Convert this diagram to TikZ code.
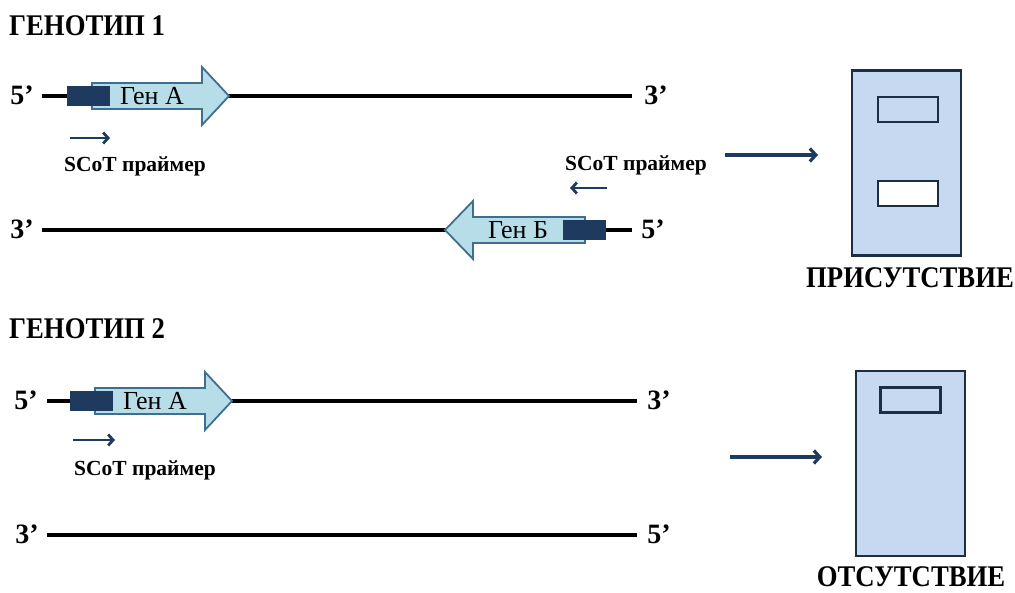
\documentclass[tikz,border=0pt]{standalone}
\usepackage{fontspec}
\setmainfont{Liberation Serif}
\usetikzlibrary{arrows.meta}
\definecolor{navy}{HTML}{1F3A5F}
\definecolor{genefill}{HTML}{B7DEE8}
\definecolor{geneedge}{HTML}{3F6F8F}
\definecolor{gelfill}{HTML}{C6D9F1}
\definecolor{geledge}{HTML}{1C2E44}
\newcommand{\narrow}[1]{\scalebox{0.89}[1]{#1}}
\tikzset{
  strand/.style={line width=3.4pt, black},
  genearrow/.style={fill=genefill, draw=geneedge, line width=1.8pt, line join=miter},
  promoter/.style={fill=navy},
  genetext/.style={font=\fontsize{26}{28}\selectfont, inner sep=0pt},
  endlabel/.style={font=\bfseries\fontsize{28}{30}\selectfont, inner sep=0pt},
  title/.style={font=\bfseries\fontsize{30}{32}\selectfont, inner sep=0pt},
  primerlbl/.style={font=\bfseries\fontsize{21.5}{23}\selectfont, inner sep=0pt},
  primer/.style={draw=navy, line width=2.8pt, -{Straight Barb[length=5pt,width=11pt]}},
  flow/.style={draw=navy, line width=3.2pt, -{Straight Barb[length=6pt,width=13pt]}},
  gel/.style={draw=geledge, fill=gelfill, line width=2.4pt, minimum width=109pt, minimum height=185pt, inner sep=0pt},
  band/.style={draw=geledge, line width=2.4pt, minimum width=60pt, minimum height=25pt, inner sep=0pt},
}
\begin{document}
\begin{tikzpicture}[x=1pt,y=-1pt]
\useasboundingbox (0,0) rectangle (1015,592);

% ---------- Genotype 1 ----------
\node[title, anchor=west] (t1) at (9,26) {\narrow{ГЕНОТИП 1}};

% forward strand with gene A
\coordinate (s1a) at (42,96);
\coordinate (s1b) at (632,96);
\draw[strand] (s1a) -- (s1b);
\node[endlabel] (s1l) at (22,95) {5’};
\node[endlabel] (s1r) at (656,95) {3’};
\path[genearrow] (92,83) -- (202,83) -- (202,67) -- (229,96) -- (202,125) -- (202,109) -- (92,109) -- cycle;
\fill[promoter] (67,86) rectangle (110,106);
\node[genetext] (gA1) at (152,96) {Ген А};
\coordinate (p1a) at (70,138);
\coordinate (p1b) at (110,138);
\draw[primer] (p1a) -- (p1b);
\node[primerlbl] (pl1) at (135,166) {SCoT праймер};

% reverse strand with gene B
\coordinate (s2a) at (42,230);
\coordinate (s2b) at (632,230);
\draw[strand] (s2a) -- (s2b);
\node[endlabel] (s2l) at (22,229) {3’};
\node[endlabel] (s2r) at (653,229) {5’};
\path[genearrow] (585,217) -- (473,217) -- (473,201) -- (445,230) -- (473,259) -- (473,243) -- (585,243) -- cycle;
\fill[promoter] (563,220) rectangle (606,240);
\node[genetext] (gB1) at (518,230) {Ген Б};
\coordinate (p2a) at (607,188);
\coordinate (p2b) at (570,188);
\draw[primer] (p2a) -- (p2b);
\node[primerlbl] (pl2) at (636,165) {SCoT праймер};

% gel 1: two bands
\node[gel] (gel1) at (906.5,163) {};
\node[band, fill=gelfill] (b11) at (908,109.5) {};
\node[band, fill=white] (b12) at (908,193.5) {};
\coordinate (f1a) at (725,155);
\coordinate (f1b) at (818,155);
\draw[flow] (f1a) -- (f1b);
\node[title] (r1) at (910,278) {\narrow{ПРИСУТСТВИЕ}};

% ---------- Genotype 2 ----------
\node[title, anchor=west] (t2) at (9,329) {\narrow{ГЕНОТИП 2}};

\coordinate (s3a) at (47,401);
\coordinate (s3b) at (637,401);
\draw[strand] (s3a) -- (s3b);
\node[endlabel] (s3l) at (26,400) {5’};
\node[endlabel] (s3r) at (659,400) {3’};
\path[genearrow] (95,388) -- (205,388) -- (205,372) -- (232,401) -- (205,430) -- (205,414) -- (95,414) -- cycle;
\fill[promoter] (70,391) rectangle (113,411);
\node[genetext] (gA2) at (155,401) {Ген А};
\coordinate (p3a) at (73,440);
\coordinate (p3b) at (115,440);
\draw[primer] (p3a) -- (p3b);
\node[primerlbl] (pl3) at (145,470) {SCoT праймер};

\coordinate (s4a) at (47,535);
\coordinate (s4b) at (637,535);
\draw[strand] (s4a) -- (s4b);
\node[endlabel] (s4l) at (27,534) {3’};
\node[endlabel] (s4r) at (659,534) {5’};

% gel 2: one band
\node[gel] (gel2) at (910.5,463.5) {};
\node[band, fill=gelfill] (b21) at (910.5,400) {};
\coordinate (f2a) at (730,457);
\coordinate (f2b) at (822,457);
\draw[flow] (f2a) -- (f2b);
\node[title] (r2) at (911,577) {\narrow{ОТСУТСТВИЕ}};
\end{tikzpicture}
\end{document}
